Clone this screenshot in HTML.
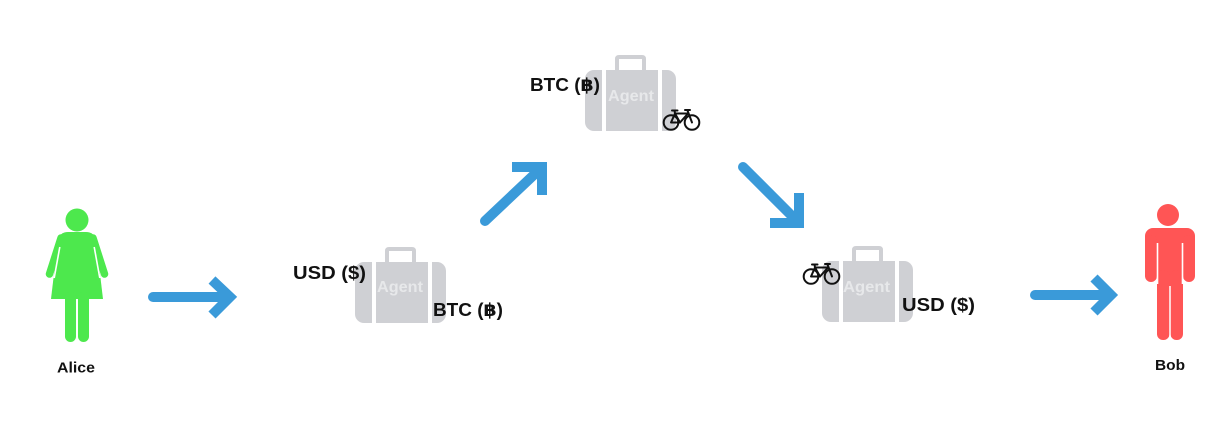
<!DOCTYPE html>
<html><head><meta charset="utf-8"><style>
html,body{margin:0;padding:0;background:#fff;}
svg{display:block;}
text{font-family:"Liberation Sans","DejaVu Sans",sans-serif;font-weight:bold;}
</style></head><body>
<svg width="1228" height="421" viewBox="0 0 1228 421" xmlns="http://www.w3.org/2000/svg">
<defs>
  <g id="bag">
    <path d="M32 0 V-11 Q32 -13 34 -13 H57 Q59 -13 59 -11 V0" fill="none" stroke="#cfd0d4" stroke-width="4"/>
    <rect x="0" y="0" width="91" height="61" rx="9" fill="#cfd0d4"/>
    <rect x="17" y="0" width="4" height="61" fill="#fff"/>
    <rect x="73" y="0" width="4" height="61" fill="#fff"/>
  </g>
  <g id="bike" fill="none" stroke="#111" stroke-width="2" stroke-linejoin="round" stroke-linecap="round">
    <circle cx="8" cy="14.5" r="7.3"/>
    <circle cx="29" cy="14.5" r="7.3"/>
    <path d="M8 14.5 L17 14.5 L12 5.5 Z"/>
    <path d="M12 5.5 L25 5.5 L17 14.5"/>
    <path d="M24.5 2.5 L29 14.5"/>
    <path d="M9 2.5 H14.5"/>
    <path d="M12 5.5 L11.5 2.5"/>
    <path d="M22 2 H27"/>
  </g>
</defs>

<!-- Alice -->
<g fill="#4de84d">
  <circle cx="77" cy="220" r="11.5"/>
  <line x1="61" y1="238" x2="49.5" y2="274" stroke="#4de84d" stroke-width="7.5" stroke-linecap="round"/>
  <line x1="93" y1="238" x2="104.5" y2="274" stroke="#4de84d" stroke-width="7.5" stroke-linecap="round"/>
  <path d="M58 240 Q60 232 68 232 L86 232 Q94 232 96 240 L103 299 L51 299 Z"/>
  <rect x="65" y="292" width="11" height="50" rx="5.5"/>
  <rect x="78" y="292" width="11" height="50" rx="5.5"/>
</g>
<line x1="59.8" y1="247" x2="54.2" y2="278" stroke="#fff" stroke-width="1.6"/>
<line x1="94.2" y1="247" x2="99.8" y2="278" stroke="#fff" stroke-width="1.6"/>
<text x="57" y="372.5" font-size="15" textLength="38" lengthAdjust="spacingAndGlyphs" fill="#111">Alice</text>

<!-- Bob -->
<g fill="#ff5555">
  <circle cx="1168" cy="215" r="11"/>
  <rect x="1145" y="228" width="50" height="22" rx="8"/>
  <rect x="1145" y="235" width="12" height="47" rx="6"/>
  <rect x="1183" y="235" width="12" height="47" rx="6"/>
  <rect x="1158" y="228" width="24" height="60"/>
  <rect x="1157" y="270" width="12.5" height="70" rx="6"/>
  <rect x="1170.5" y="270" width="12.5" height="70" rx="6"/>
</g>
<line x1="1157.5" y1="243" x2="1157.5" y2="284" stroke="#fff" stroke-width="1.6"/>
<line x1="1182.5" y1="243" x2="1182.5" y2="284" stroke="#fff" stroke-width="1.6"/>
<line x1="1170" y1="286" x2="1170" y2="342" stroke="#fff" stroke-width="1.5"/>
<text x="1155" y="370" font-size="15" textLength="30" lengthAdjust="spacingAndGlyphs" fill="#111">Bob</text>

<!-- Arrows -->
<g stroke="#3a9ad9" stroke-width="10" fill="none">
  <line x1="153" y1="297" x2="228" y2="297" stroke-linecap="round"/>
  <polyline points="212,280 230,297 212,315" stroke-linejoin="miter" stroke-linecap="butt"/>

  <line x1="485" y1="221" x2="538" y2="171" stroke-linecap="round"/>
  <polyline points="512,167 542,167 542,195" stroke-linejoin="miter" stroke-linecap="butt"/>

  <line x1="743" y1="167" x2="794" y2="218" stroke-linecap="round"/>
  <polyline points="799,193 799,223 770,223" stroke-linejoin="miter" stroke-linecap="butt"/>

  <line x1="1035" y1="295" x2="1108" y2="295" stroke-linecap="round"/>
  <polyline points="1094,278 1111,295 1094,312" stroke-linejoin="miter" stroke-linecap="butt"/>
</g>

<!-- Bag 1 -->
<use href="#bag" x="355" y="262"/>
<text x="377" y="292" font-size="16" textLength="46" lengthAdjust="spacingAndGlyphs" fill="#e7e8ea">Agent</text>
<text x="293" y="279" font-size="18" textLength="73" lengthAdjust="spacingAndGlyphs" fill="#111">USD ($)</text>
<text x="433" y="316" font-size="18" textLength="70" lengthAdjust="spacingAndGlyphs" fill="#111">BTC (฿)</text>

<!-- Bag 2 -->
<use href="#bag" x="585" y="70"/>
<text x="608" y="101" font-size="16" textLength="46" lengthAdjust="spacingAndGlyphs" fill="#e7e8ea">Agent</text>
<text x="530" y="91" font-size="18" textLength="70" lengthAdjust="spacingAndGlyphs" fill="#111">BTC (฿)</text>
<use href="#bike" x="663" y="108"/>

<!-- Bag 3 -->
<use href="#bag" x="822" y="261"/>
<text x="843" y="292" font-size="16" textLength="47" lengthAdjust="spacingAndGlyphs" fill="#e7e8ea">Agent</text>
<text x="902" y="311" font-size="18" textLength="73" lengthAdjust="spacingAndGlyphs" fill="#111">USD ($)</text>
<use href="#bike" x="803" y="262"/>
</svg>
</body></html>
